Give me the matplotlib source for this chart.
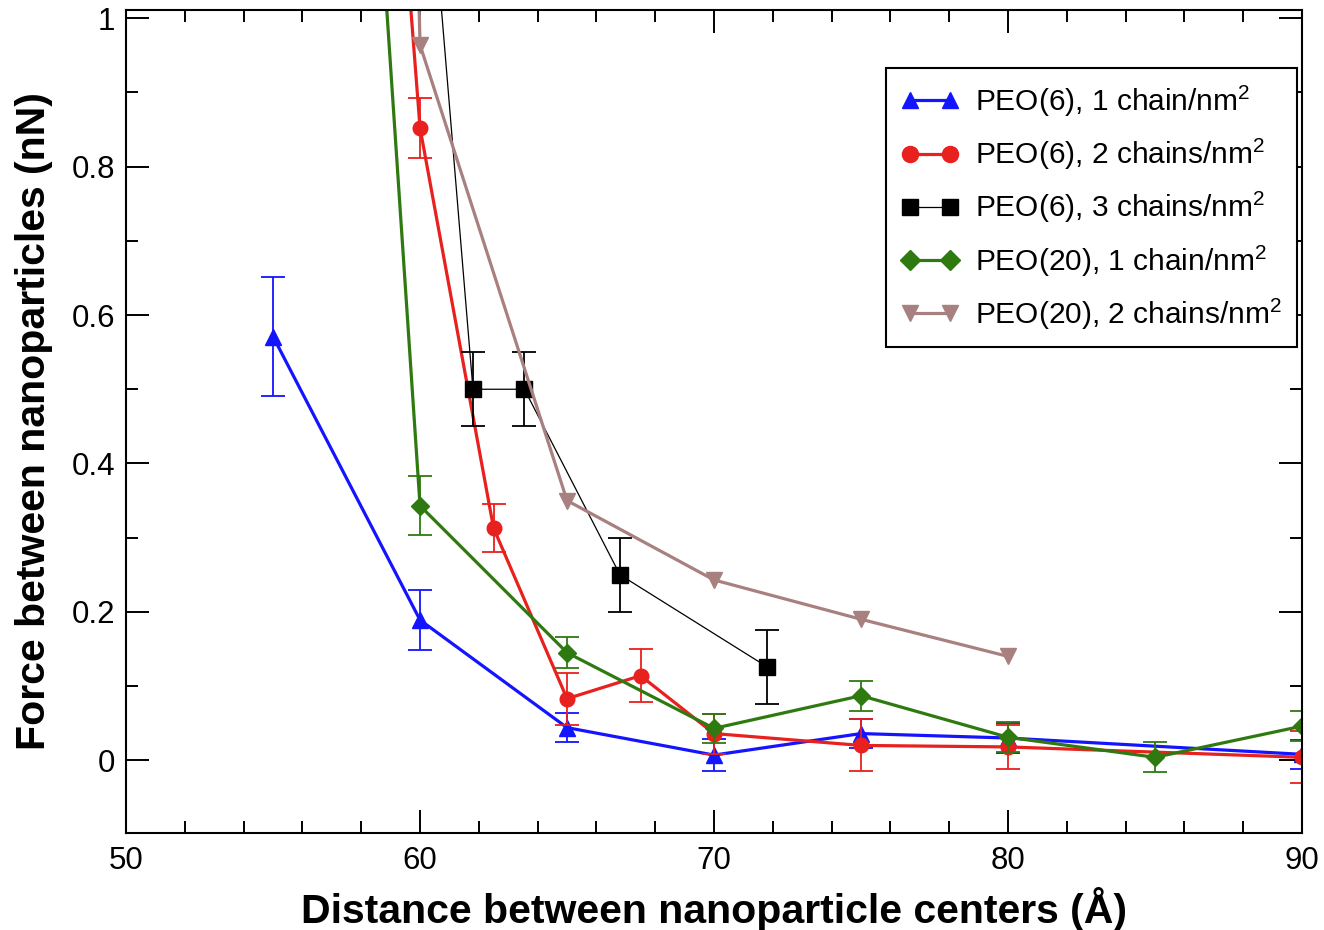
import matplotlib.pyplot as plt
from matplotlib.ticker import MultipleLocator, FormatStrFormatter

plt.rcParams["font.family"] = ["Liberation Sans", "DejaVu Sans"]
plt.rcParams["mathtext.fontset"] = "custom"
plt.rcParams["mathtext.rm"] = "Liberation Sans"

# PEO(6), 1 chain/nm2
x_a = [55, 60, 65, 70, 75, 80, 90]
y_a = [0.571, 0.189, 0.044, 0.007, 0.036, 0.030, 0.008]
e_a = [0.08, 0.04, 0.02, 0.022, 0.02, 0.02, 0.02]

# PEO(6), 2 chains/nm2
x_b = [57.5, 60, 62.5, 65, 67.5, 70, 75, 80, 90]
y_b = [2.13, 0.852, 0.313, 0.083, 0.114, 0.036, 0.020, 0.018, 0.004]
e_b = [0.04, 0.04, 0.032, 0.035, 0.036, 0.027, 0.035, 0.03, 0.035]

# PEO(6), 3 chains/nm2
x_c = [60, 61.8, 63.55, 66.8, 71.8]
y_c = [1.36, 0.50, 0.50, 0.25, 0.126]
e_c = [0.38, 0.05, 0.05, 0.05, 0.05]

# PEO(20), 1 chain/nm2
x_d = [57.5, 60, 65, 70, 75, 80, 85, 90]
y_d = [1.82, 0.343, 0.145, 0.043, 0.087, 0.031, 0.004, 0.046]
e_d = [0.04, 0.04, 0.021, 0.02, 0.02, 0.02, 0.02, 0.02]

# PEO(20), 2 chains/nm2
x_e = [57.5, 60, 65, 70, 75, 80]
y_e = [5.0, 0.964, 0.350, 0.243, 0.190, 0.140]

series = [
    (x_a, y_a, e_a, "#1414ff", "^", 2.3, "PEO(6), 1 chain/nm$^\\mathregular{2}$"),
    (x_b, y_b, e_b, "#e8201e", "o", 2.3, "PEO(6), 2 chains/nm$^\\mathregular{2}$"),
    (x_c, y_c, e_c, "#000000", "s", 0.9, "PEO(6), 3 chains/nm$^\\mathregular{2}$"),
    (x_d, y_d, e_d, "#2f7a10", "D", 2.3, "PEO(20), 1 chain/nm$^\\mathregular{2}$"),
    (x_e, y_e, None, "#a88080", "v", 2.3, "PEO(20), 2 chains/nm$^\\mathregular{2}$"),
]

fig = plt.figure(figsize=(13.24, 9.3), dpi=100)
ax = fig.add_axes([0.0952, 0.1043, 0.8882, 0.8849])

handles = []
for x, y, err, color, marker, lw, label in series:
    ms = 11
    if marker == "D":
        ms = 9.5
    if marker == "o":
        ms = 10.5
    if err is not None:
        eb = ax.errorbar(x, y, yerr=err, fmt="none", ecolor=color, elinewidth=1.3,
                         capsize=8.5, capthick=1.3)
        if marker == "s":
            # the first point sits above the frame: no cap on its lower end
            for cap in eb[1]:
                cap.set_markevery(slice(1, None))
    line, = ax.plot(x, y, color=color, lw=lw, marker=marker, ms=ms,
                    markeredgecolor=color, label=label)
    handles.append(line)

ax.set_xlim(50, 90)
ax.set_ylim(-0.098, 1.011)

ax.xaxis.set_major_locator(MultipleLocator(10))
ax.xaxis.set_minor_locator(MultipleLocator(2))
ax.yaxis.set_major_locator(MultipleLocator(0.2))
ax.yaxis.set_minor_locator(MultipleLocator(0.1))
ax.yaxis.set_major_formatter(FormatStrFormatter("%g"))

ax.tick_params(which="both", direction="in", top=True, right=True, width=1.4,
               labelsize=22.5)
ax.tick_params(which="major", length=16.5)
ax.tick_params(which="minor", length=8.5)
ax.tick_params(axis="x", pad=9)
ax.tick_params(axis="y", pad=8)
for spine in ax.spines.values():
    spine.set_linewidth(1.5)

ax.set_xlabel("Distance between nanoparticle centers (Å)", fontsize=29.5,
              fontweight="bold", labelpad=8)
ax.set_ylabel("Force between nanoparticles (nN)", fontsize=29.5,
              fontweight="bold", labelpad=13)

leg = ax.legend(handles=handles, loc="upper right", bbox_to_anchor=(0.9957, 0.9295),
                borderaxespad=0, fontsize=21.5, numpoints=2, handlelength=1.95,
                labelspacing=0.58, fancybox=False, framealpha=1, edgecolor="black",
                borderpad=0.5, handletextpad=0.55, markerscale=1.1)
leg.get_frame().set_linewidth(1.5)

plt.savefig("out.png", dpi=100)
plt.close()
